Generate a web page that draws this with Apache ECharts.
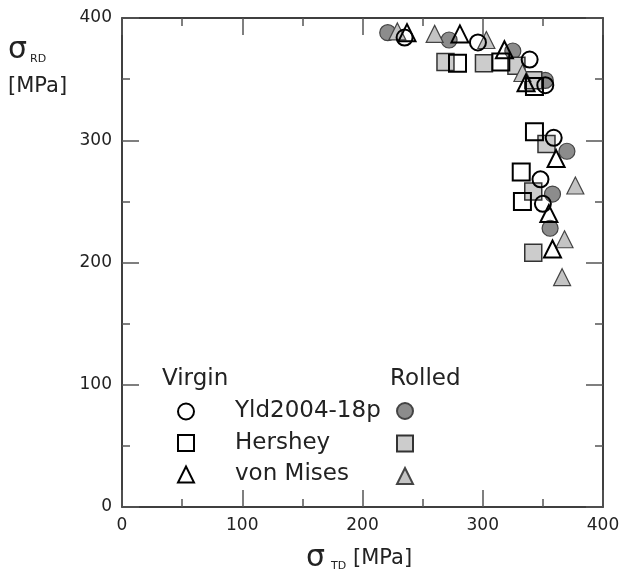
<!DOCTYPE html>
<html>
<head>
<meta charset="utf-8">
<script src="https://cdn.jsdelivr.net/npm/echarts@6/dist/echarts.min.js"></script>
<style>
  html, body { margin: 0; padding: 0; background: #fff; }
  #main { width: 629px; height: 576px; }
</style>
</head>
<body>
<div id="main"></div>
<script>
// sigma_TD, sigma_RD [MPa]
var virginCircle = [[235, 384], [296, 380], [339, 366], [352, 345], [359, 302], [348, 268], [350, 248]];
var virginSquare = [[279, 363], [315, 364], [343, 344], [343, 307], [332, 274], [333, 250]];
var virginTriangle = [[237, 388], [281, 387], [318, 374], [336, 347], [361, 285], [355, 240], [358, 211]];
var rolledCircle = [[221, 388], [272, 382], [325, 373], [352, 349], [370, 291], [358, 256], [356, 228]];
var rolledSquare = [[269, 364], [301, 363], [328, 361], [342, 349], [353, 297], [342, 258], [342, 208]];
var rolledTriangle = [[229, 389], [260, 387], [303, 382], [333, 355], [377, 263], [368, 219], [366, 188]];

var modelNames = ['Yld2004-18p', 'Hershey', 'von Mises'];
var rolledNames = ['Yld2004-18p (rolled)', 'Hershey (rolled)', 'von Mises (rolled)'];
var axisTicks = [0, 100, 200, 300, 400];

var FONT = 'DejaVu Sans';
var INK = '#222';

function axis(pos, showLabel) {
  return {
    type: 'value',
    position: pos,
    min: axisTicks[0],
    max: axisTicks[axisTicks.length - 1],
    interval: axisTicks[1] - axisTicks[0],
    axisLine: { show: true, onZero: false, lineStyle: { color: '#000', width: 1.5 } },
    axisTick: { show: true, inside: true, length: 17, lineStyle: { color: '#555', width: 1.5 } },
    minorTick: { show: true, splitNumber: 2, length: 8, lineStyle: { color: '#555', width: 1.5 } },
    splitLine: { show: false },
    axisLabel: { show: showLabel, margin: 10, fontSize: 17, color: INK, fontFamily: FONT }
  };
}

function txt(str, left, top, size) {
  return { type: 'text', left: left, top: top, style: { text: str, fontSize: size, fontFamily: FONT, fill: INK } };
}

function sc(name, data, symbol, size, fill, stroke, bw, z) {
  return {
    name: name,
    type: 'scatter',
    data: data,
    symbol: symbol,
    symbolSize: size,
    z: z,
    itemStyle: { color: fill, borderColor: stroke, borderWidth: bw, opacity: 1 }
  };
}

var chart = echarts.init(document.getElementById('main'));
chart.setOption({
  animation: false,
  backgroundColor: '#fff',
  grid: { left: 122, right: 26, top: 18, bottom: 69, outerBoundsMode: 'none', containLabel: false },
  xAxis: [axis('bottom', true), axis('top', false)],
  yAxis: [axis('left', true), axis('right', false)],
  legend: [
    {
      data: modelNames,
      orient: 'vertical',
      left: 172, top: 395,
      itemWidth: 16, itemHeight: 16, itemGap: 8.5,
      selectedMode: false,
      textStyle: { fontSize: 23, lineHeight: 22, fontFamily: FONT, color: INK, padding: [0, 0, 0, 36] }
    },
    {
      data: rolledNames,
      orient: 'vertical',
      left: 391, top: 397,
      itemWidth: 16, itemHeight: 16, itemGap: 14.5,
      selectedMode: false,
      formatter: function () { return ''; },
      textStyle: { fontSize: 23, lineHeight: 22, fontFamily: FONT }
    }
  ],
  graphic: [
    txt('Virgin', 162, 368, 23),
    txt('Rolled', 390, 368, 23),
    // y axis name
    txt('σ', 8, 35, 30),
    txt('RD', 30, 54, 11),
    txt('[MPa]', 8, 76, 21),
    // x axis name
    txt('σ', 306, 543, 30),
    txt('TD', 331, 561, 11),
    txt('[MPa]', 353, 548, 21)
  ],
  series: [
    sc(rolledNames[0], rolledCircle, 'circle', 16, '#8c8c8c', '#444', 1.2, 2),
    sc(rolledNames[1], rolledSquare, 'rect', 17, '#cccccc', '#333', 1.5, 2),
    sc(rolledNames[2], rolledTriangle, 'triangle', 17, '#c4c4c4', '#444', 1.2, 2),
    sc(modelNames[0], virginCircle, 'circle', 16, 'rgba(0,0,0,0)', '#000', 2, 3),
    sc(modelNames[1], virginSquare, 'rect', 17, 'rgba(0,0,0,0)', '#000', 2, 3),
    sc(modelNames[2], virginTriangle, 'triangle', 17, 'rgba(0,0,0,0)', '#000', 2, 3)
  ]
});
</script>
</body>
</html>
